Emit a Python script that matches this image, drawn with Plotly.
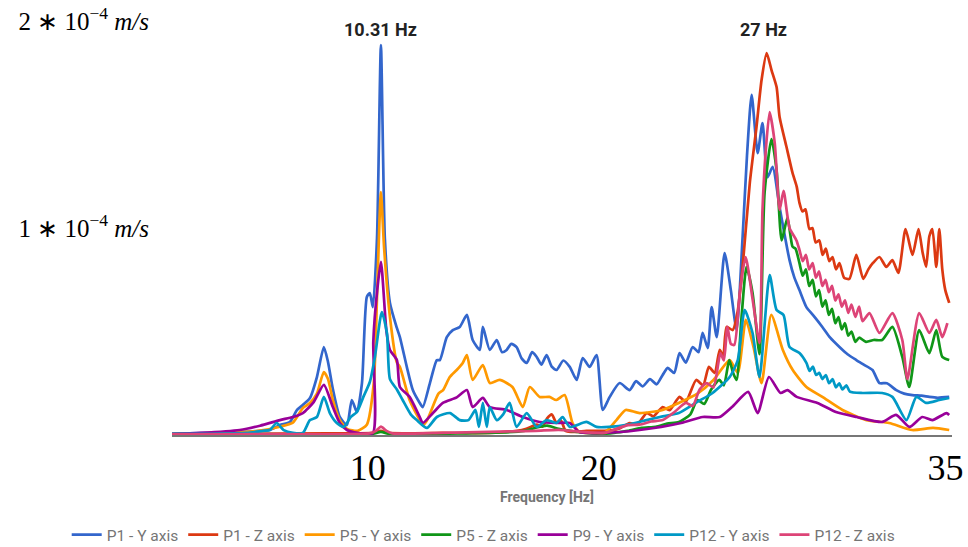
import plotly.graph_objects as go

# Amplitudes in units of 1e-4 m/s, frequency in Hz
UNIT = 1e-4

P1_Y = [(1.27,0.005),(2.0,0.008),(2.8,0.01),(3.6,0.012),(4.4,0.015),(5.08,0.02),(5.5,0.024),(5.94,0.048),
        (6.37,0.063),(6.68,0.121),(6.93,0.145),(7.24,0.179),(7.54,0.280),(7.84,0.425),(8.02,0.353),(8.23,0.222),
        (8.53,0.087),(8.84,0.048),(9.05,0.169),(9.27,0.111),(9.49,0.251),(9.7,0.667),(9.83,0.686),(9.96,0.618),
        (10.14,0.95),(10.31,1.884),(10.48,0.95),(10.7,0.638),(11.0,0.517),(11.13,0.473),(11.43,0.329),(11.69,0.217),
        (11.99,0.155),(12.12,0.135),(12.43,0.251),(12.73,0.362),(12.86,0.362),(13.16,0.473),(13.42,0.507),(13.72,0.522),
        (14.03,0.580),(14.28,0.459),(14.59,0.411),(14.72,0.522),(15.02,0.411),(15.32,0.459),(15.55,0.40),(15.75,0.411),
        (15.95,0.44),(16.18,0.425),(16.4,0.37),(16.62,0.348),(16.85,0.40),(17.05,0.377),(17.25,0.34),(17.48,0.386),
        (17.7,0.33),(17.91,0.314),(18.2,0.36),(18.48,0.329),(18.78,0.266),(19.04,0.372),(19.34,0.329),(19.64,0.386),
        (19.91,0.121),(20.21,0.184),(20.64,0.251),(21.07,0.217),(21.35,0.26),(21.64,0.235),(21.95,0.27),(22.24,0.245),
        (22.5,0.29),(22.72,0.324),(23.0,0.30),(23.23,0.396),(23.5,0.35),(23.8,0.425),(24.05,0.40),(24.23,0.493),
        (24.45,0.42),(24.62,0.618),(24.84,0.473),(25.18,0.879),(25.45,0.70),(25.7,0.507),(25.96,0.957),(26.15,1.35),
        (26.35,1.643),(26.61,1.362),(26.82,1.507),(27.04,1.246),(27.26,1.295),(27.56,1.101),(27.99,0.845),(28.2,0.76),
        (28.42,0.700),(28.72,0.618),(29.0,0.58),(29.41,0.522),(29.75,0.47),(30.15,0.425),(30.5,0.39),(30.88,0.362),
        (31.2,0.34),(31.58,0.314),(31.88,0.251),(32.2,0.25),(32.61,0.217),(32.95,0.20),(33.31,0.193),(33.7,0.19),
        (34.04,0.184),(34.4,0.18),(34.9,0.184)]

P1_Z = [(1.27,0.003),(4.0,0.005),(8.0,0.008),(10.0,0.01),(10.31,0.02),(10.6,0.01),(13.0,0.01),(15.0,0.01),
        (16.2,0.02),(16.6,0.03),(17.05,0.05),(17.3,0.04),(17.5,0.08),(17.7,0.10),(17.9,0.06),(18.1,0.07),(18.3,0.02),
        (18.7,0.015),(19.2,0.02),(20.0,0.02),(20.6,0.03),(21.07,0.058),(21.4,0.05),(21.81,0.106),(22.1,0.09),
        (22.5,0.135),(22.8,0.12),(23.23,0.184),(23.5,0.16),(23.95,0.266),(24.25,0.24),(24.5,0.329),(24.75,0.30),
        (24.97,0.411),(25.12,0.38),(25.27,0.522),(25.53,0.507),(25.75,0.60),(25.96,0.812),(26.27,1.217),(26.56,1.488),
        (26.78,1.715),(27.0,1.845),(27.21,1.763),(27.43,1.681),(27.56,1.536),(27.86,1.391),(28.12,1.266),(28.3,1.20),
        (28.42,1.121),(28.55,1.08),(28.68,1.09),(28.85,0.995),(28.98,1.0),(29.12,0.93),(29.28,0.94),(29.42,0.87),
        (29.56,0.90),(29.71,0.84),(29.85,0.86),(30.0,0.80),(30.15,0.83),(30.35,0.76),(30.58,0.754),(30.88,0.870),
        (31.18,0.754),(31.4,0.80),(31.6,0.831),(31.88,0.860),
        (32.18,0.812),(32.44,0.845),(32.7,0.783),(33.01,0.995),(33.31,0.870),(33.57,0.995),(33.75,0.88),(33.9,0.812),
        (34.04,0.96),(34.17,0.995),(34.34,0.812),(34.47,0.995),(34.6,0.80),(34.73,0.700),(34.9,0.638)]

P5_Y = [(1.27,0.005),(3.3,0.01),(5.0,0.02),(5.94,0.04),(6.5,0.06),(6.93,0.13),(7.24,0.155),(7.54,0.20),(7.84,0.304),
        (8.02,0.27),(8.23,0.169),(8.53,0.072),(8.84,0.03),(9.3,0.02),(9.7,0.05),(10.0,0.25),(10.15,0.7),(10.31,1.174),
        (10.45,0.9),(10.70,0.570),(11.0,0.35),(11.13,0.329),(11.55,0.169),(11.99,0.072),(12.12,0.048),(12.3,0.07),
        (12.8,0.20),(13.0,0.217),(13.29,0.28),(13.59,0.314),(13.85,0.348),(14.03,0.386),(14.28,0.266),(14.72,0.338),
        (15.02,0.251),(15.45,0.266),(16.0,0.232),(16.45,0.135),(16.75,0.232),(17.18,0.184),(17.6,0.184),(17.9,0.169),
        (18.26,0.193),(18.6,0.058),(18.9,0.014),(19.5,0.01),(20.0,0.012),(20.5,0.072),(20.9,0.121),(21.5,0.106),
        (22.5,0.121),(23.2,0.155),(24.0,0.2),(24.7,0.266),(25.4,0.362),(25.75,0.300),(26.1,0.556),(26.43,0.425),
        (26.78,0.251),(27.2,0.580),(27.7,0.411),(28.13,0.314),(28.72,0.232),(29.41,0.184),(30.28,0.121),(31.32,0.072),
        (32.3,0.058),(33.3,0.024),(34.2,0.034),(34.9,0.024)]

P5_Z = [(1.27,0.003),(5.0,0.004),(9.9,0.005),(10.31,0.015),(10.7,0.005),(14.0,0.008),(15.5,0.012),(16.5,0.02),
        (17.0,0.035),(17.5,0.045),(18.0,0.03),(18.5,0.02),(19.2,0.01),(20.0,0.006),(20.5,0.012),(21.0,0.02),(21.6,0.035),
        (22.2,0.04),(22.7,0.055),(23.2,0.063),(23.7,0.10),(24.0,0.169),(24.3,0.15),(24.6,0.22),(24.95,0.266),(25.15,0.24),
        (25.38,0.362),(25.55,0.30),(25.7,0.266),(25.9,0.55),(26.13,0.812),(26.39,0.686),(26.69,0.39),(26.91,1.17),
        (27.21,1.43),(27.43,1.28),(27.65,0.94),(27.9,1.05),(28.12,0.91),(28.25,0.90),(28.42,0.83),(28.56,0.77),
        (28.7,0.80),(28.84,0.72),(28.99,0.75),(29.13,0.67),(29.27,0.70),(29.41,0.62),(29.55,0.65),(29.69,0.58),
        (29.83,0.61),(29.97,0.54),(30.11,0.57),(30.25,0.51),(30.39,0.54),(30.53,0.48),(30.67,0.50),(30.84,0.45),
        (31.0,0.47),(31.3,0.45),(31.63,0.459),(32.0,0.459),(32.44,0.522),(32.87,0.377),(33.17,0.232),(33.6,0.507),
        (34.04,0.396),(34.34,0.507),(34.6,0.377),(34.9,0.362)]

P9_Y = [(1.27,0.005),(2.5,0.01),(4.2,0.024),(5.08,0.045),(5.94,0.072),(6.5,0.087),(6.93,0.106),(7.4,0.159),(7.84,0.242),
        (8.23,0.135),(8.53,0.058),(8.84,0.024),(9.3,0.01),(9.96,0.01),(9.98,0.45),(10.15,0.7),(10.31,0.836),(10.55,0.5),
        (10.70,0.411),(11.0,0.362),(11.13,0.232),(11.55,0.184),(11.99,0.087),(12.12,0.058),(12.56,0.106),(12.99,0.155),
        (13.59,0.182),(14.03,0.217),(14.28,0.135),(14.72,0.179),(15.02,0.135),(15.75,0.121),(16.45,0.087),(17.18,0.063),
        (17.9,0.058),(18.48,0.058),(18.9,0.014),(19.9,0.01),(21.5,0.024),(23.3,0.058),(24.23,0.087),(24.97,0.087),
        (25.5,0.135),(26.2,0.208),(26.61,0.106),(27.1,0.280),(27.6,0.203),(27.9,0.217),(28.3,0.184),(29.2,0.155),
        (30.0,0.111),(30.9,0.087),(32.0,0.063),(32.6,0.097),(33.18,0.039),(33.73,0.087),(34.17,0.072),(34.78,0.106),
        (34.9,0.097)]

P12_Y = [(1.27,0.005),(3.0,0.006),(4.5,0.01),(5.2,0.02),(5.5,0.024),(5.8,0.058),(6.1,0.024),(6.5,0.01),(6.93,0.01),
         (7.24,0.072),(7.54,0.087),(7.84,0.184),(8.1,0.106),(8.4,0.058),(8.7,0.039),(9.0,0.087),(9.27,0.111),(9.55,0.184),
         (9.83,0.256),(10.05,0.377),(10.35,0.594),(10.57,0.493),(10.70,0.27),(11.0,0.22),(11.25,0.169),(11.6,0.10),
         (11.86,0.072),(12.3,0.034),(12.73,0.087),(13.3,0.106),(13.72,0.072),(14.1,0.072),(14.4,0.121),(14.55,0.039),
         (14.72,0.155),(14.89,0.039),(15.02,0.135),(15.32,0.072),(15.6,0.10),(15.88,0.155),(16.18,0.039),(16.62,0.106),
         (17.05,0.039),(17.48,0.072),(17.91,0.058),(18.17,0.087),(18.48,0.039),(19.2,0.063),(19.64,0.039),(20.2,0.039),
         (21.0,0.05),(21.8,0.072),(22.5,0.09),(23.2,0.106),(24.0,0.16),(24.66,0.203),(25.4,0.280),(25.75,0.362),
         (26.05,0.604),(26.39,0.493),(26.69,0.280),(27.13,0.773),(27.43,0.604),(27.73,0.580),(27.99,0.425),(28.42,0.396),
         (28.72,0.348),(28.86,0.31),(29.0,0.33),(29.14,0.29),(29.28,0.30),(29.41,0.27),(29.56,0.29),(29.7,0.25),
         (29.85,0.27),(30.0,0.23),(30.14,0.25),(30.28,0.22),(30.45,0.24),(30.6,0.21),(31.15,0.203),(32.0,0.203),
         (32.44,0.184),(33.05,0.072),(33.48,0.184),(33.9,0.155),(34.47,0.169),(34.9,0.179)]

P12_Z = [(1.27,0.003),(5.0,0.004),(9.8,0.008),(10.1,0.02),(10.31,0.04),(10.55,0.02),(10.8,0.008),(13.0,0.01),
         (15.0,0.015),(17.0,0.02),(18.0,0.025),(19.0,0.015),(20.0,0.01),(20.5,0.03),(21.0,0.048),(21.5,0.05),(22.0,0.065),
         (22.5,0.072),(23.0,0.11),(23.5,0.155),(23.8,0.14),(24.1,0.22),(24.4,0.251),(24.7,0.23),(25.0,0.396),(25.15,0.36),
         (25.3,0.522),(25.45,0.44),(25.6,0.435),(25.85,0.70),(26.09,0.86),(26.4,0.65),(26.69,0.444),(26.82,1.087),
         (26.98,1.40),(27.13,1.56),(27.35,1.41),(27.56,1.087),(27.73,1.18),(27.99,1.0),(28.29,0.94),(28.42,0.894),
         (28.56,0.84),(28.7,0.87),(28.84,0.80),(28.99,0.83),(29.13,0.76),(29.27,0.79),(29.41,0.72),(29.55,0.75),
         (29.69,0.69),(29.83,0.72),(29.97,0.65),(30.11,0.68),(30.25,0.62),(30.39,0.65),(30.53,0.59),(30.67,0.63),
         (30.84,0.57),(31.0,0.62),(31.15,0.55),
         (31.45,0.589),(31.88,0.493),(32.44,0.589),(32.87,0.459),(33.09,0.27),(33.6,0.589),(34.04,0.493),(34.34,0.556),
         (34.6,0.473),(34.82,0.541)]

SERIES = [("P1 - Y axis", P1_Y, "#3366cc"), ("P1 - Z axis", P1_Z, "#dc3912"),
          ("P5 - Y axis", P5_Y, "#ff9900"), ("P5 - Z axis", P5_Z, "#109618"),
          ("P9 - Y axis", P9_Y, "#990099"), ("P12 - Y axis", P12_Y, "#0099c6"),
          ("P12 - Z axis", P12_Z, "#dd4477")]

X_TICKS = [10, 20, 35]
Y_TICKS = [1e-4, 2e-4]
Y_TICKTEXT = ["1 ∗ 10<sup>−4</sup> <i>m/s</i>", "2 ∗ 10<sup>−4</sup> <i>m/s</i>"]
PEAKS = [(10.31, "10.31 Hz"), (27.0, "27 Hz")]
X_TITLE = "Frequency [Hz]"

fig = go.Figure()
for name, pts, color in SERIES:
    fig.add_trace(go.Scatter(
        x=[p[0] for p in pts], y=[p[1] * UNIT for p in pts], name=name, mode="lines",
        line=dict(color=color, width=2.7, shape="spline", smoothing=0.6)))

for f, label in PEAKS:
    fig.add_annotation(x=f, y=1.96e-4, xref="x", yref="y", text=f"<b>{label}</b>", showarrow=False,
                       font=dict(family="Roboto", size=18, color="#222222"),
                       xshift=-3 if f > 20 else 0)

# x-axis title placed as an annotation to sit between the tick labels and the legend
fig.add_annotation(x=0.481, y=-0.148, xref="paper", yref="paper", text=f"<b>{X_TITLE}</b>", showarrow=False,
                   xanchor="center", yanchor="middle",
                   font=dict(family="Roboto", size=14, color="#757575"))

fig.update_layout(
    width=968, height=547, paper_bgcolor="white", plot_bgcolor="white",
    margin=dict(l=172, r=16, t=15, b=112, autoexpand=False),
    xaxis=dict(range=[1.27, 35.02], tickvals=X_TICKS, ticktext=[str(t) for t in X_TICKS], automargin=False,
               showgrid=False, zeroline=False, showline=True, linecolor="#777777", linewidth=1.5,
               tickfont=dict(family="Liberation Serif", size=36, color="black"), ticklabelstandoff=0,
               ticklabelshift=-6),
    yaxis=dict(range=[0, 2.029e-4], tickvals=Y_TICKS, ticktext=Y_TICKTEXT, showgrid=False, zeroline=False,
               automargin=False, showline=False,
               tickfont=dict(family="Liberation Serif", size=25, color="black"),
               ticklabelstandoff=22),
    legend=dict(orientation="h", xref="paper", x=-0.135, xanchor="left",
                yref="paper", y=-0.238, yanchor="middle",
                font=dict(family="Roboto", size=15.5, color="#757575"), traceorder="normal"),
    showlegend=True,
)

fig.write_html("out.html", config={"displayModeBar": False},
               post_script="document.body.style.margin='0px';")
